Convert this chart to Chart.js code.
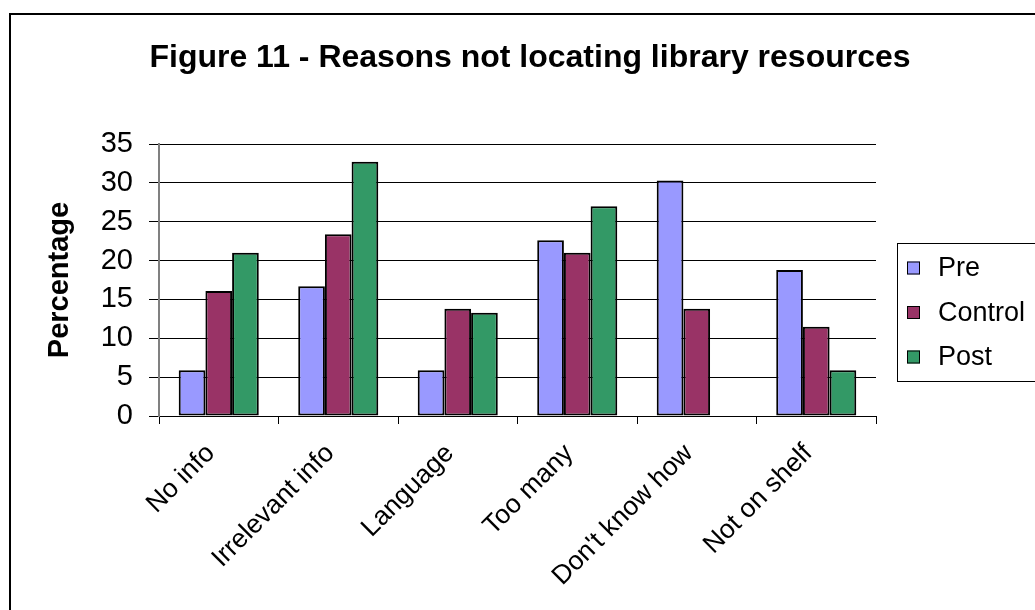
<!DOCTYPE html>
<html>
<head>
<meta charset="utf-8">
<title>Figure 11</title>
<script src="https://cdn.jsdelivr.net/npm/chart.js@4/dist/chart.umd.min.js"></script>
<style>
    body { margin: 0; background: #fff; }
    canvas { display: block; }
</style>
</head>
<body>
<canvas id="chart" width="1035" height="610"></canvas>
<script>
const chartTitle = 'Figure 11 - Reasons not locating library resources';
const categories = ['No info', 'Irrelevant info', 'Language', 'Too many', "Don't know how", 'Not on shelf'];
const preValues = [5.9, 16.7, 5.9, 22.6, 30.3, 18.8];
const controlValues = [16.1, 23.4, 13.8, 21.0, 13.8, 11.5];
const postValues = [21.0, 32.7, 13.3, 27.0, 0, 5.9];
const yTicks = [0, 5, 10, 15, 20, 25, 30, 35];

const fontFamily = "'Liberation Sans', Arial, sans-serif";

// frame, title and legend box like the Excel original
const framePlugin = {
    id: 'frame',
    beforeDraw(chart) {
        const ctx = chart.ctx;
        ctx.save();
        ctx.fillStyle = '#fff';
        ctx.fillRect(0, 0, chart.width, chart.height);
        ctx.strokeStyle = '#000';
        ctx.lineWidth = 2;
        ctx.strokeRect(10, 14, chart.width + 20, chart.height + 20);
        ctx.restore();
    },
    afterDraw(chart) {
        const ctx = chart.ctx;
        ctx.save();
        ctx.fillStyle = '#000';
        ctx.font = 'bold 32px ' + fontFamily;
        ctx.textAlign = 'center';
        ctx.textBaseline = 'alphabetic';
        ctx.fillText(chartTitle, 530, 67);

        // legend
        ctx.strokeStyle = '#000';
        ctx.lineWidth = 1;
        ctx.strokeRect(897.5, 243.5, 200, 138);
        ctx.font = '27px ' + fontFamily;
        ctx.textAlign = 'left';
        ctx.textBaseline = 'middle';
        chart.data.datasets.forEach((ds, i) => {
            const y = 268 + i * 44.5;
            ctx.fillStyle = ds.backgroundColor;
            ctx.fillRect(907, y - 6.5, 13, 13);
            ctx.strokeRect(907.5, y - 6, 12, 12);
            ctx.fillStyle = '#000';
            ctx.fillText(ds.label, 938, y + 1);
        });
        ctx.restore();
    }
};

const ctx = document.getElementById('chart').getContext('2d');
new Chart(ctx, {
    type: 'bar',
    data: {
        labels: categories,
        datasets: [
            { label: 'Pre', data: preValues, backgroundColor: '#9999FF' },
            { label: 'Control', data: controlValues, backgroundColor: '#993366' },
            { label: 'Post', data: postValues, backgroundColor: '#339966' }
        ].map(ds => Object.assign(ds, {
            borderColor: '#000',
            borderWidth: 2,
            borderSkipped: false,
            categoryPercentage: 0.67,
            barPercentage: 1
        }))
    },
    options: {
        responsive: false,
        animation: false,
        layout: {
            padding: { top: 144, right: 159, bottom: 0, left: 0 }
        },
        plugins: {
            legend: { display: false },
            title: { display: false },
            tooltip: { enabled: false }
        },
        scales: {
            x: {
                afterFit(scale) { scale.height = 194; },
                grid: {
                    offset: true,
                    drawOnChartArea: false,
                    drawTicks: true,
                    tickLength: 8,
                    color: '#000'
                },
                border: { color: '#000', width: 1 },
                ticks: {
                    autoSkip: false,
                    maxRotation: 45,
                    minRotation: 45,
                    padding: 14,
                    labelOffset: -8,
                    color: '#000',
                    font: { family: fontFamily, size: 26.5 }
                }
            },
            y: {
                min: 0,
                max: 35,
                afterFit(scale) { scale.width = 159; },
                afterBuildTicks(scale) { scale.ticks = yTicks.map(v => ({ value: v })); },
                grid: {
                    color: '#000',
                    lineWidth: 1,
                    tickLength: 10,
                    tickColor: '#000'
                },
                border: { color: '#808080', width: 2 },
                ticks: {
                    padding: 16,
                    color: '#000',
                    font: { family: fontFamily, size: 29 }
                },
                title: {
                    display: true,
                    text: 'Percentage',
                    color: '#000',
                    padding: { top: 43, bottom: 0 },
                    font: { family: fontFamily, size: 29, weight: 'bold' }
                }
            }
        }
    },
    plugins: [framePlugin]
});
</script>
</body>
</html>
